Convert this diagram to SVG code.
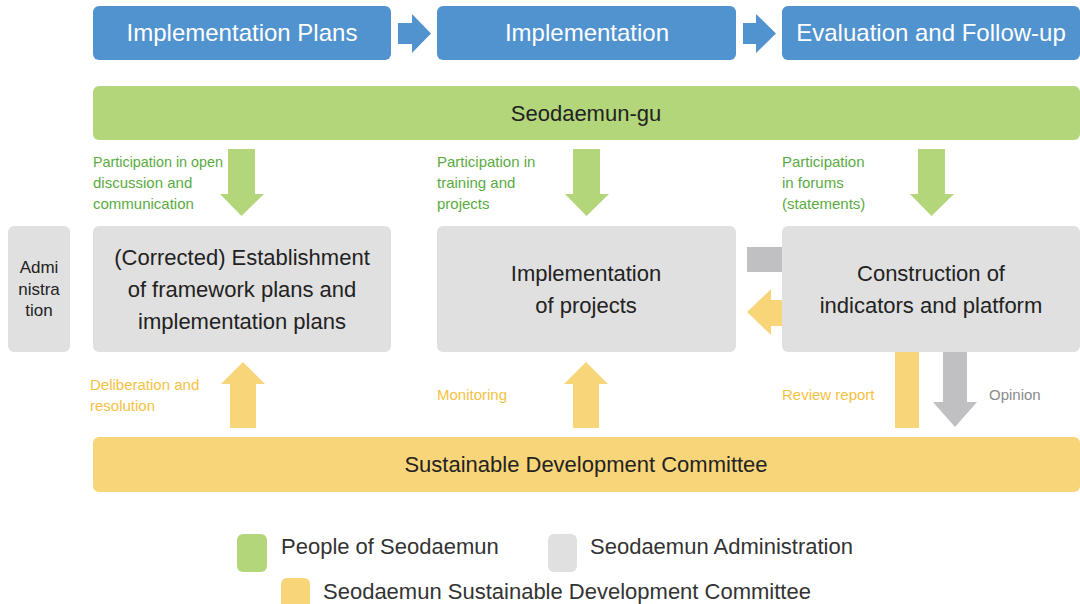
<svg xmlns="http://www.w3.org/2000/svg" width="1080" height="604" viewBox="0 0 1080 604">
<style>
.hdr{fill:#5193cf}
.hdrt{fill:#ffffff;font-family:"Liberation Sans",Arial,sans-serif;font-size:24px;text-anchor:middle}
.green{fill:#b3d67a}
.gray{fill:#e0e0e0}
.yel{fill:#f9d579}
.garr{fill:#b3d67a}
.yarr{fill:#f9d579}
.darr{fill:#c0c0c2}
.bt{fill:#222222;font-family:"Liberation Sans",Arial,sans-serif;font-size:22px;text-anchor:middle}
.lg{fill:#5aab3f;font-family:"Liberation Sans",Arial,sans-serif;font-size:15px}
.ly{fill:#f5c142;font-family:"Liberation Sans",Arial,sans-serif;font-size:15px}
.lo{fill:#8a8a8a;font-family:"Liberation Sans",Arial,sans-serif;font-size:15px}
.adm{fill:#222222;font-family:"Liberation Sans",Arial,sans-serif;font-size:17px;text-anchor:middle}
.leg{fill:#333333;font-family:"Liberation Sans",Arial,sans-serif;font-size:22px}
</style>
<rect width="1080" height="604" fill="#ffffff"/>
<g id="hdr-plans"><rect class="hdr" x="93" y="6" width="298" height="54" rx="6"/><text class="hdrt" x="242" y="41">Implementation Plans</text></g>
<g id="hdr-impl"><rect class="hdr" x="437" y="6" width="299" height="54" rx="6"/><text class="hdrt" x="587" y="41">Implementation</text></g>
<g id="hdr-eval"><rect class="hdr" x="782" y="6" width="298" height="54" rx="6"/><text class="hdrt" x="931" y="41">Evaluation and Follow-up</text></g>
<g id="seodaemun-gu"><rect class="green" x="93" y="86" width="987" height="54" rx="6"/><text class="bt" x="586" y="121">Seodaemun-gu</text></g>
<g id="admin"><rect class="gray" x="8" y="226" width="62" height="126" rx="6"/><text class="adm" x="39" y="273">Admi</text><text class="adm" x="39" y="295">nistra</text><text class="adm" x="39" y="316">tion</text></g>
<g id="node-plans"><rect class="gray" x="93" y="226" width="298" height="126" rx="6"/><text class="bt" x="242" y="265">(Corrected) Establishment</text><text class="bt" x="242" y="297">of framework plans and</text><text class="bt" x="242" y="329">implementation plans</text></g>
<g id="node-impl"><rect class="gray" x="437" y="226" width="299" height="126" rx="6"/><text class="bt" x="586" y="281">Implementation</text><text class="bt" x="586" y="313">of projects</text></g>
<g id="node-ind"><rect class="gray" x="782" y="226" width="298" height="126" rx="6"/><text class="bt" x="931" y="281">Construction of</text><text class="bt" x="931" y="313">indicators and platform</text></g>
<g id="committee"><rect class="yel" x="93" y="437" width="987" height="55" rx="6"/><text class="bt" x="586" y="472">Sustainable Development Committee</text></g>
<g id="connectors">
<polygon class="hdr" points="398,23 412,23 412,14 431,33.5 412,53 412,44 398,44"/>
<polygon class="hdr" points="743,23 756,23 756,14 776,33.5 756,53 756,44 743,44"/>
<polygon class="garr" points="228,149 255,149 255,194 264,194 241.5,216 220,194 228,194"/>
<polygon class="garr" points="573,149 600,149 600,194 609,194 586.5,216 565,194 573,194"/>
<polygon class="garr" points="918,149 945,149 945,194 954,194 931.5,216 910,194 918,194"/>
<polygon class="yarr" points="230,428 256,428 256,384 265,384 243,362 221,384 230,384"/>
<polygon class="yarr" points="573,428 599,428 599,384 608,384 586,362 564,384 573,384"/>
<rect class="darr" x="747" y="247" width="35" height="25"/>
<polygon class="yarr" points="782,300 771,300 771,289 747,312 771,335 771,326 782,326"/>
<rect class="yarr" x="895" y="352" width="24" height="76"/>
<polygon class="darr" points="943,352 967,352 967,402 977,402 955,427 933,402 943,402"/>
<text class="lg" x="93" y="167" textLength="130" lengthAdjust="spacingAndGlyphs">Participation in open</text>
<text class="lg" x="93" y="188">discussion and</text>
<text class="lg" x="93" y="209">communication</text>
<text class="lg" x="437" y="167">Participation in</text>
<text class="lg" x="437" y="188">training and</text>
<text class="lg" x="437" y="209">projects</text>
<text class="lg" x="782" y="167">Participation</text>
<text class="lg" x="782" y="188">in forums</text>
<text class="lg" x="782" y="209">(statements)</text>
<text class="ly" x="90" y="390">Deliberation and</text>
<text class="ly" x="90" y="411">resolution</text>
<text class="ly" x="437" y="400">Monitoring</text>
<text class="ly" x="782" y="400">Review report</text>
<text class="lo" x="989" y="400">Opinion</text>
</g>
<g id="legend">
<rect class="green" x="237" y="534" width="30" height="38" rx="6"/>
<text class="leg" x="281" y="554">People of Seodaemun</text>
<rect class="gray" x="548" y="534" width="29" height="38" rx="6"/>
<text class="leg" x="590" y="554">Seodaemun Administration</text>
<rect class="yel" x="281" y="578" width="29" height="38" rx="6"/>
<text class="leg" x="323" y="599">Seodaemun Sustainable Development Committee</text>
</g>
</svg>
